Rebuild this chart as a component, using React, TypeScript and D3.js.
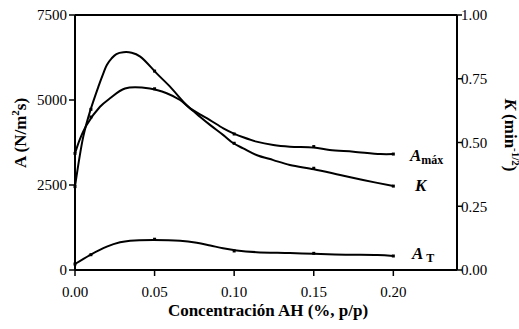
import React from 'react';
import * as d3 from 'd3';

const xTicks = [0, 0.05, 0.1, 0.15, 0.2];
const yLeftTicks = [0, 2500, 5000, 7500];
const yRightTicks = [0, 0.25, 0.5, 0.75, 1.0];

// A_máx curve (left axis, N/m²s)
const amaxX = [0, 0.0031, 0.0073, 0.0157, 0.022, 0.0314, 0.047, 0.0576, 0.066, 0.0723, 0.0785, 0.0848, 0.0932, 0.0995, 0.1057, 0.114, 0.1246, 0.135, 0.15, 0.16, 0.175, 0.192, 0.2];
const amaxV = [3430, 3850, 4265, 4800, 5050, 5340, 5340, 5200, 5000, 4755, 4580, 4410, 4167, 4020, 3903, 3775, 3676, 3627, 3600, 3530, 3480, 3410, 3410];

// K curve (right axis, min^-1/2)
const kX = [0, 0.0052, 0.0094, 0.0147, 0.0178, 0.02, 0.023, 0.026, 0.0304, 0.0356, 0.041, 0.0513, 0.0597, 0.068, 0.0723, 0.0785, 0.0848, 0.0932, 0.0995, 0.1057, 0.114, 0.1246, 0.135, 0.15, 0.1666, 0.181, 0.2];
const kV = [0.327, 0.523, 0.621, 0.719, 0.771, 0.804, 0.83, 0.847, 0.854, 0.852, 0.837, 0.771, 0.719, 0.66, 0.634, 0.601, 0.569, 0.529, 0.497, 0.477, 0.451, 0.431, 0.412, 0.395, 0.3725, 0.353, 0.329];

// A_T curve (left axis)
const atX = [0, 0.0094, 0.02, 0.0283, 0.0346, 0.0492, 0.066, 0.0765, 0.085, 0.093, 0.1016, 0.114, 0.135, 0.15, 0.17, 0.19, 0.2];
const atV = [176, 441, 686, 814, 863, 882, 860, 800, 720, 640, 575, 525, 500, 475, 450, 440, 415];

// measured points
const markX = [0, 0.01, 0.05, 0.1, 0.15, 0.2];
const amaxMarks = [3430, 4500, 5330, 4000, 3630, 3410];
const kMarks = [0.327, 0.63, 0.78, 0.497, 0.399, 0.329];
const atMarks = [176, 450, 905, 560, 490, 412];

const W = 519, H = 329;
const FS = { fontFamily: 'Liberation Serif' };

export default function App() {
  const x = d3.scaleLinear().domain([0, 0.24]).range([75, 457]);
  const yL = d3.scaleLinear().domain([0, 7500]).range([270, 15]);
  const yR = d3.scaleLinear().domain([0, 1]).range([270, 15]);

  const lineL = d3.line<[number, number]>().x(d => x(d[0])).y(d => yL(d[1])).curve(d3.curveCatmullRom.alpha(0.5));
  const lineR = d3.line<[number, number]>().x(d => x(d[0])).y(d => yR(d[1])).curve(d3.curveCatmullRom.alpha(0.5));

  const zip = (a: number[], b: number[]) => a.map((v, i) => [v, b[i]] as [number, number]);

  const [x0, x1] = x.range();
  const [yb, yt] = yL.range();

  return (
    <svg width={W} height={H} style={{ position: 'absolute', left: 0, top: 0, background: '#fff', fontFamily: 'Liberation Serif' }}>
      <g stroke="#000" strokeWidth={2} fill="none">
        <line x1={x0} y1={yt} x2={x0} y2={yb} />
        <line x1={x0} y1={yt} x2={x1} y2={yt} />
        <line x1={x1} y1={yt} x2={x1} y2={yb} />
        <line x1={x0} y1={yb} x2={x1} y2={yb} />
      </g>
      {yLeftTicks.map(t => (
        <g key={'l' + t}>
          <line x1={x0 - 6} x2={x0} y1={yL(t)} y2={yL(t)} stroke="#000" strokeWidth={1.5} />
          <text x={x0 - 8} y={yL(t)} dy="0.35em" textAnchor="end" fontSize={15} style={FS}>{d3.format('d')(t)}</text>
        </g>
      ))}
      {yRightTicks.map(t => (
        <g key={'r' + t}>
          <line x1={x1} x2={x1 + 5} y1={yR(t)} y2={yR(t)} stroke="#000" strokeWidth={1.5} />
          <text x={x1 + 4} y={yR(t)} dy="0.35em" textAnchor="start" fontSize={15} style={FS}>{d3.format('.2f')(t)}</text>
        </g>
      ))}
      {xTicks.map(t => (
        <g key={'b' + t}>
          <line x1={x(t)} x2={x(t)} y1={yb} y2={yb + 6} stroke="#000" strokeWidth={1.5} />
          <text x={x(t)} y={yb + 27} textAnchor="middle" fontSize={15} style={FS}>{d3.format('.2f')(t)}</text>
        </g>
      ))}
      <text x={(x0 + x1) / 2 + 2} y={316} textAnchor="middle" fontSize={17} fontWeight="bold" style={FS}>Concentración AH (%, p/p)</text>
      <text transform={`translate(26,133) rotate(-90)`} textAnchor="middle" fontSize={17} fontWeight="bold" style={FS}>
        A (N/m<tspan fontSize={11} dy={-7}>2</tspan><tspan dy={7}>s)</tspan>
      </text>
      <text transform={`translate(505,135) rotate(90)`} textAnchor="middle" fontSize={17} fontWeight="bold" style={FS}>
        <tspan fontStyle="italic">K</tspan> (min<tspan fontSize={11} dy={-7}>-1/2</tspan><tspan dy={7}>)</tspan>
      </text>

      <g fill="none" stroke="#000" strokeWidth={2}>
        <path d={lineL(zip(amaxX, amaxV)) || ''} />
        <path d={lineR(zip(kX, kV)) || ''} />
        <path d={lineL(zip(atX, atV)) || ''} />
      </g>
      <g fill="#000">
        {markX.map((m, i) => <rect key={'ma' + i} x={x(m) - 1.5} y={yL(amaxMarks[i]) - 1.5} width={3} height={3} />)}
        {markX.map((m, i) => <rect key={'mk' + i} x={x(m) - 1.5} y={yR(kMarks[i]) - 1.5} width={3} height={3} />)}
        {markX.map((m, i) => <rect key={'mt' + i} x={x(m) - 1.5} y={yL(atMarks[i]) - 1.5} width={3} height={3} />)}
      </g>

      <text x={410} y={161} fontSize={17} fontWeight="bold" style={FS}>
        <tspan fontStyle="italic">A</tspan><tspan fontSize={12} dy={3}>máx</tspan>
      </text>
      <text x={415} y={191} fontSize={17} fontWeight="bold" fontStyle="italic" style={FS}>K</text>
      <text x={412} y={259} fontSize={17} fontWeight="bold" style={FS}>
        <tspan fontStyle="italic">A</tspan><tspan fontSize={12} dy={3}> T</tspan>
      </text>
    </svg>
  );
}
